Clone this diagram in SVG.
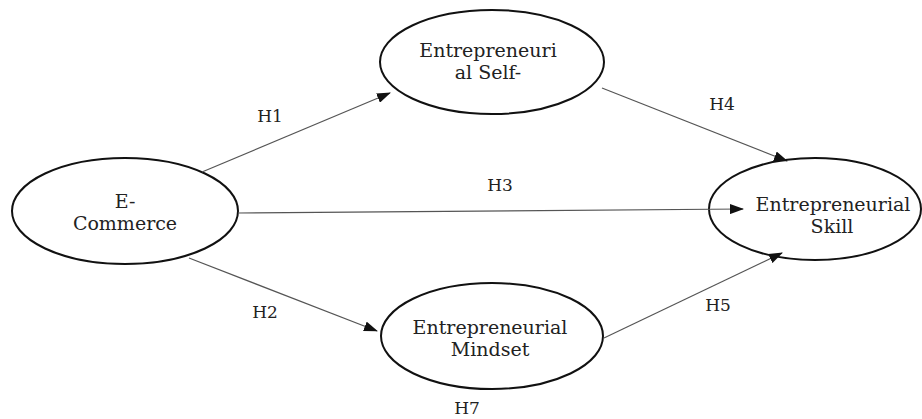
<svg xmlns="http://www.w3.org/2000/svg" width="922" height="419" viewBox="0 0 922 419">
<style>
.node ellipse{fill:#fff;stroke:#111;stroke-width:2}
text{font-family:"DejaVu Serif","Liberation Serif",serif;font-size:19px;fill:#222;text-anchor:middle}
.lbl{font-size:17px}
.edge{stroke:#555;stroke-width:1.2;fill:none;marker-end:url(#ah)}
</style>
<defs>
<marker id="ah" markerWidth="14" markerHeight="10" refX="13" refY="5" orient="auto" markerUnits="userSpaceOnUse">
<path d="M0,0 L14,5 L0,10 Z" fill="#111"/>
</marker>
</defs>
<rect width="922" height="419" fill="#fff"/>
<g id="ecommerce" class="node">
<ellipse cx="125" cy="211" rx="113" ry="53"/>
<text x="125" y="208">E-</text>
<text x="125" y="230">Commerce</text>
</g>
<g id="selfefficacy" class="node">
<ellipse cx="492" cy="62" rx="112" ry="52"/>
<text x="488" y="57">Entrepreneuri</text>
<text x="488" y="79">al Self-</text>
</g>
<g id="skill" class="node">
<ellipse cx="815" cy="209" rx="106" ry="51"/>
<text x="833" y="211">Entrepreneurial</text>
<text x="832" y="233">Skill</text>
</g>
<g id="mindset" class="node">
<ellipse cx="492" cy="336" rx="111" ry="53"/>
<text x="490" y="334">Entrepreneurial</text>
<text x="490" y="356">Mindset</text>
</g>
<g id="connectors">
<line class="edge" x1="202" y1="172" x2="390" y2="93"/>
<line class="edge" x1="189" y1="258" x2="377" y2="331"/>
<line class="edge" x1="238" y1="213" x2="743" y2="209"/>
<line class="edge" x1="602" y1="88" x2="787" y2="161"/>
<line class="edge" x1="604" y1="338" x2="782" y2="253"/>
<text class="lbl" x="270" y="122">H1</text>
<text class="lbl" x="265" y="318">H2</text>
<text class="lbl" x="500" y="191">H3</text>
<text class="lbl" x="722" y="110">H4</text>
<text class="lbl" x="718" y="311">H5</text>
<text class="lbl" x="467" y="414">H7</text>
</g>
</svg>
